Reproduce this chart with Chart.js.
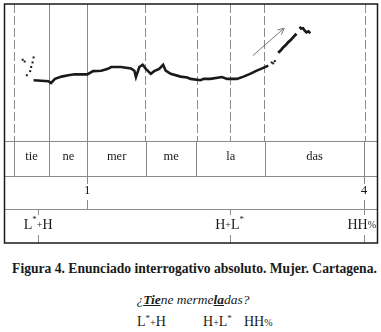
<!DOCTYPE html>
<html>
<head>
<meta charset="utf-8">
<script src="https://cdn.jsdelivr.net/npm/chart.js@4"></script>
<style>
  body { margin: 0; background: #fff; width: 381px; height: 332px; position: relative; overflow: hidden; }
  #c { position: absolute; left: 0; top: 0; }
  .txt { position: absolute; font-family: "Liberation Serif", "Times New Roman", Times, "DejaVu Serif", serif; color: #1a1a1a; white-space: nowrap; }
  #caption { left: 0; width: 389px; text-align: center; top: 261px; font-size: 13.6px; font-weight: bold; }
  #phrase { left: 0; width: 386px; text-align: center; top: 292px; font-size: 13.5px; font-style: italic; }
  #phrase b { text-decoration: underline; }
  .tone { top: 314px; font-size: 14px; }
  .tone sup { font-size: 9px; vertical-align: 5px; line-height: 0; }
  .tone small { font-size: 10px; }
</style>
</head>
<body>
<canvas id="c" width="381" height="246"></canvas>
<div class="txt" id="caption">Figura 4. Enunciado interrogativo absoluto. Mujer. Cartagena.</div>
<div class="txt" id="phrase">¿<b>Tie</b>ne merme<b>la</b>das?</div>
<div class="txt tone" style="left:137px">L<sup>*</sup><small>+</small>H</div>
<div class="txt tone" style="left:203px">H<small>+</small>L<sup>*</sup></div>
<div class="txt tone" style="left:244px">HH<small>%</small></div>
<script>
// curva de F0 (tiempo en s, Hz)
const contourTime = [0.149,0.224,0.237,0.257,0.29,0.324,0.357,0.39,0.42,0.449,0.49,0.524,0.54,0.59,0.64,0.657,0.665,0.682,0.699,0.715,0.74,0.757,0.782,0.802,0.815,0.84,0.89,0.924,0.94,0.99,1.007,1.04,1.099,1.124,1.174,1.207,1.24,1.274,1.307,1.332];
const contourF0 = [233,231,227,236,241,244,246,246,246,253,254,258,262,262,259,254,240,262,267,258,247,253,258,267,254,247,241,239,236,233,236,236,240,236,236,241,247,254,260,265];
const dotTime = [0.094,0.104,0.115,0.132,0.137,0.144,0.149,1.349,1.357,1.365];
const dotF0 = [278,274,244,253,262,272,283,272,270,275];
const upperTime = [1.382,1.394,1.407,1.42,1.432,1.445,1.457,1.474];
const upperF0 = [293,298,305,310,316,321,327,335];
const endTime = [1.49,1.497,1.507,1.515,1.524,1.534,1.544];
const endF0 = [350,346,347,342,338,340,336];
const arrowTime = [1.254,1.412];
const arrowF0 = [287,347];

// marcas y etiquetas de los niveles
const plotMarks = [0.049,0.229,0.42,0.712,0.974,1.139,1.312,1.819];
const plotDashed = [true,false,false,true,true,true,true,true];
const syllables = ['tie','ne','mer','me','la','das'];
const syllableBounds = [0.049,0.229,0.42,0.715,0.97,1.315,1.815];
const breakLabels = ['1','4'];
const breakTimes = [0.42,1.815];
const toneLabels = ['L*+H','H+L*','HH%'];
const toneTimes = [0.172,1.137,1.815];

const pts = (xs, ys) => xs.map((x, i) => ({ x: x, y: ys[i] }));
const SERIF = '"Liberation Serif", "Times New Roman", "DejaVu Serif", serif';

function drawTone(ctx, label, x, y, maxRight) {
  const parts = label.split('').map(ch => {
    if (ch === '*') return { ch, font: '9px ' + SERIF, dy: -5 };
    if (ch === '+' || ch === '%') return { ch, font: '10px ' + SERIF, dy: 0 };
    return { ch, font: '14px ' + SERIF, dy: 0 };
  });
  let w = 0;
  parts.forEach(p => { ctx.font = p.font; p.w = ctx.measureText(p.ch).width; w += p.w; });
  let sx = x - w / 2;
  if (sx + w > maxRight) sx = maxRight - w;
  ctx.textAlign = 'left';
  parts.forEach(p => { ctx.font = p.font; ctx.fillText(p.ch, sx, y + p.dy); sx += p.w; });
}

const tiers = {
  id: 'tiers',
  beforeDatasetsDraw(chart) {
    const ctx = chart.ctx, a = chart.chartArea, xs = chart.scales.x;
    ctx.save();
    ctx.strokeStyle = '#8a8a8a';
    ctx.lineWidth = 1;
    plotMarks.forEach((t, i) => {
      const x = Math.round(xs.getPixelForValue(t)) + 0.5;
      ctx.setLineDash(plotDashed[i] ? [9, 3] : []);
      ctx.beginPath(); ctx.moveTo(x, a.top); ctx.lineTo(x, a.bottom); ctx.stroke();
    });
    ctx.restore();
  },
  afterDatasetsDraw(chart) {
    // punta de la flecha
    const ctx = chart.ctx;
    const m = chart.getDatasetMeta(chart.data.datasets.length - 1).data;
    const p0 = m[0], p1 = m[1];
    const ang = Math.atan2(p1.y - p0.y, p1.x - p0.x);
    ctx.save();
    ctx.strokeStyle = '#777'; ctx.lineWidth = 1;
    ctx.beginPath();
    ctx.moveTo(p1.x - 7 * Math.cos(ang - 0.45), p1.y - 7 * Math.sin(ang - 0.45));
    ctx.lineTo(p1.x, p1.y);
    ctx.lineTo(p1.x - 7 * Math.cos(ang + 0.45), p1.y - 7 * Math.sin(ang + 0.45));
    ctx.stroke();
    ctx.restore();
  },
  afterDraw(chart) {
    const ctx = chart.ctx, a = chart.chartArea, xs = chart.scales.x;
    const X = t => Math.round(xs.getPixelForValue(t)) + 0.5;
    const y1 = a.bottom, y2 = 176, y3 = 209, y4 = 243;
    ctx.save();
    ctx.strokeStyle = '#8a8a8a'; ctx.lineWidth = 1;
    ctx.beginPath();
    [y1, y2, y3].forEach(y => { ctx.moveTo(a.left, y + 0.5); ctx.lineTo(a.right, y + 0.5); });
    syllableBounds.forEach(t => { ctx.moveTo(X(t), y1); ctx.lineTo(X(t), y2); });
    breakTimes.forEach(t => {
      ctx.moveTo(X(t), y2); ctx.lineTo(X(t), y2 + 8);
      ctx.moveTo(X(t), y3 - 9); ctx.lineTo(X(t), y3);
    });
    toneTimes.forEach(t => {
      ctx.moveTo(X(t), y3); ctx.lineTo(X(t), y3 + 6);
      ctx.moveTo(X(t), y4 - 8); ctx.lineTo(X(t), y4);
    });
    ctx.stroke();

    ctx.fillStyle = '#1a1a1a';
    ctx.textBaseline = 'middle';
    ctx.textAlign = 'center';
    ctx.font = '12.5px ' + SERIF;
    syllables.forEach((s, i) => {
      const xm = (xs.getPixelForValue(syllableBounds[i]) + xs.getPixelForValue(syllableBounds[i + 1])) / 2;
      ctx.fillText(s, xm, 157);
    });
    ctx.font = '13px ' + SERIF;
    breakLabels.forEach((s, i) => ctx.fillText(s, xs.getPixelForValue(breakTimes[i]), 191));
    toneLabels.forEach((s, i) => drawTone(ctx, s, xs.getPixelForValue(toneTimes[i]), 225, a.right - 1));

    // marco
    ctx.strokeStyle = '#1a1a1a'; ctx.lineWidth = 1.5;
    ctx.strokeRect(a.left + 0.5, a.top, a.right - a.left, y4 - a.top);
    ctx.restore();
  }
};

new Chart(document.getElementById('c'), {
  type: 'line',
  data: {
    datasets: [
      { data: pts(contourTime, contourF0), borderColor: '#1a1a1a', borderWidth: 2.6, pointRadius: 0, tension: 0 },
      { data: pts(dotTime, dotF0), showLine: false, pointStyle: 'rect', pointRadius: 1.4, backgroundColor: '#1a1a1a', borderWidth: 0 },
      { data: pts(upperTime, upperF0), borderColor: '#1a1a1a', borderWidth: 2.8, pointRadius: 0 },
      { data: pts(endTime, endF0), borderColor: '#1a1a1a', borderWidth: 2.6, pointRadius: 0 },
      { data: pts(arrowTime, arrowF0), borderColor: '#777', borderWidth: 1, pointRadius: 0 }
    ]
  },
  options: {
    responsive: false,
    animation: false,
    layout: { padding: { left: 2, right: 3, top: 3, bottom: 105 } },
    plugins: { legend: { display: false }, tooltip: { enabled: false } },
    scales: {
      x: { type: 'linear', min: 0, max: 1.88, display: false },
      y: { min: 100, max: 400, display: false }
    }
  },
  plugins: [tiers]
});
</script>
</body>
</html>
